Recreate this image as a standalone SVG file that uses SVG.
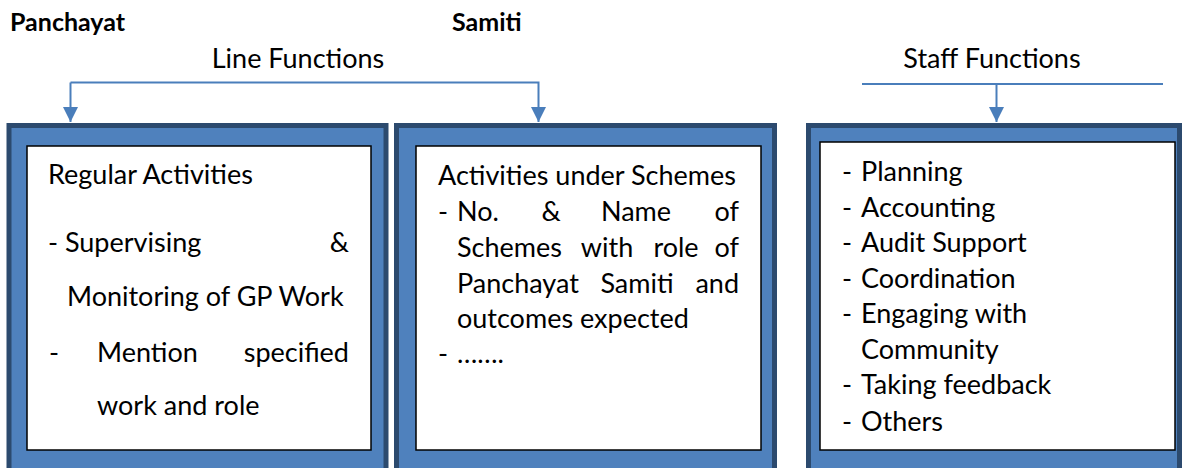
<svg xmlns="http://www.w3.org/2000/svg" width="1182" height="468" viewBox="0 0 1182 468">
  <style>
    text { font-family: Lato, "Liberation Sans", sans-serif; fill: #000; }
    .head { font-size: 25px; font-weight: bold; }
    .lbl { font-size: 27px; }
    .body { font-size: 27px; }
    .outer { fill: #4f81bd; stroke: #2c4a6e; stroke-width: 5; }
    .inner { fill: #fff; stroke: #000; stroke-width: 1.5; }
    .conn { fill: none; stroke: #4a7ebb; stroke-width: 2; }
  </style>
  <defs>
    <marker id="arrow" viewBox="0 0 10 10" refX="10" refY="5" markerWidth="7.5" markerHeight="7.5" markerUnits="strokeWidth" orient="auto">
      <path d="M0,0 L10,5 L0,10 Z" fill="#4a7ebb"/>
    </marker>
  </defs>

  <!-- headings -->
  <text class="head" x="10" y="31">Panchayat</text>
  <text class="head" x="452" y="31">Samiti</text>
  <text class="lbl" x="298" y="68" text-anchor="middle">Line Functions</text>
  <text class="lbl" x="992" y="68" text-anchor="middle">Staff Functions</text>

  <!-- connectors -->
  <g id="connectors">
    <path class="conn" d="M70.5,82.5 H538.5 V122" marker-end="url(#arrow)"/>
    <path class="conn" d="M70.5,82.5 V122" marker-end="url(#arrow)"/>
    <line class="conn" x1="862" y1="84" x2="1163" y2="84"/>
    <line class="conn" x1="996.5" y1="84" x2="996.5" y2="122" marker-end="url(#arrow)"/>
  </g>

  <!-- Regular activities -->
  <g id="regular">
    <rect class="outer" x="9" y="125.5" width="377" height="350"/>
    <rect class="inner" x="27" y="146" width="344" height="304"/>
    <text class="body" x="48" y="184">Regular Activities</text>
    <text class="body" x="48" y="252">- Supervising</text>
    <text class="body" x="349" y="252" text-anchor="end">&amp;</text>
    <text class="body" x="67" y="306">Monitoring of GP Work</text>
    <text class="body" x="49" y="362">-</text>
    <text class="body" x="97" y="362">Mention</text>
    <text class="body" x="349" y="362" text-anchor="end">specified</text>
    <text class="body" x="97" y="415">work and role</text>
  </g>

  <!-- Activities under schemes -->
  <g id="schemes">
    <rect class="outer" x="396.5" y="125.5" width="378" height="350"/>
    <rect class="inner" x="416" y="146" width="345" height="304"/>
    <text class="body" x="438" y="185">Activities under Schemes</text>
    <text class="body" x="438" y="221">-</text>
    <text class="body" x="457" y="221">No.</text>
    <text class="body" x="551" y="221" text-anchor="middle">&amp;</text>
    <text class="body" x="636" y="221" text-anchor="middle">Name</text>
    <text class="body" x="739" y="221" text-anchor="end">of</text>
    <text class="body" x="457" y="257">Schemes</text>
    <text class="body" x="607" y="257" text-anchor="middle">with</text>
    <text class="body" x="676" y="257" text-anchor="middle">role</text>
    <text class="body" x="739" y="257" text-anchor="end">of</text>
    <text class="body" x="457" y="293">Panchayat</text>
    <text class="body" x="637" y="293" text-anchor="middle">Samiti</text>
    <text class="body" x="739" y="293" text-anchor="end">and</text>
    <text class="body" x="457" y="328">outcomes expected</text>
    <text class="body" x="438" y="363">-</text>
    <text class="body" x="457" y="363">…….</text>
  </g>

  <!-- Staff functions -->
  <g id="staff">
    <rect class="outer" x="808.5" y="125.5" width="371" height="350"/>
    <rect class="inner" x="820" y="142" width="355" height="308"/>
    <text class="body" x="842" y="181">-</text><text class="body" x="861" y="181">Planning</text>
    <text class="body" x="842" y="217">-</text><text class="body" x="861" y="217">Accounting</text>
    <text class="body" x="842" y="252">-</text><text class="body" x="861" y="252">Audit Support</text>
    <text class="body" x="842" y="288">-</text><text class="body" x="861" y="288">Coordination</text>
    <text class="body" x="842" y="323">-</text><text class="body" x="861" y="323">Engaging with</text>
    <text class="body" x="861" y="359">Community</text>
    <text class="body" x="842" y="394">-</text><text class="body" x="861" y="394">Taking feedback</text>
    <text class="body" x="842" y="431">-</text><text class="body" x="861" y="431">Others</text>
  </g>
</svg>
